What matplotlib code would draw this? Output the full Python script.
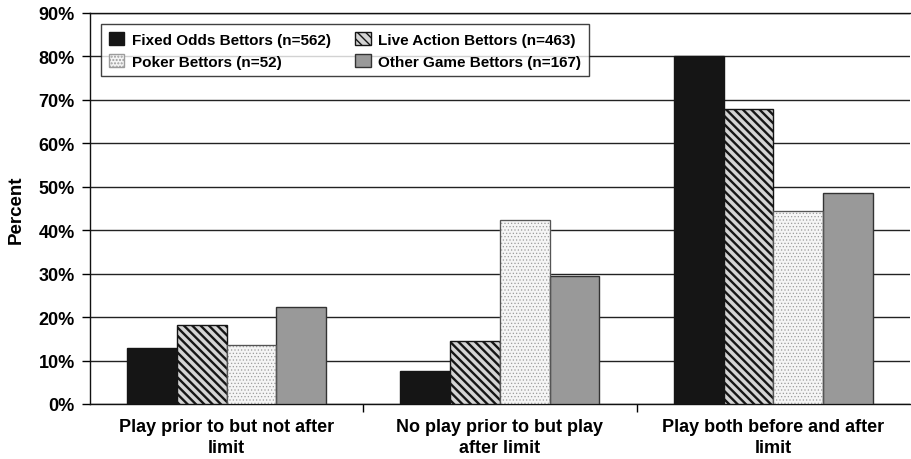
import matplotlib.pyplot as plt
import numpy as np

categories = ["Play prior to but not after\nlimit",
              "No play prior to but play\nafter limit",
              "Play both before and after\nlimit"]
series = ["Fixed Odds Bettors (n=562)", "Live Action Bettors (n=463)",
          "Poker Bettors (n=52)", "Other Game Bettors (n=167)"]
fixed_odds = [12.9, 7.6, 80.0]
live_action = [18.2, 14.5, 67.9]
poker = [13.6, 42.4, 44.4]
other_game = [22.3, 29.5, 48.6]
values = [fixed_odds, live_action, poker, other_game]

plt.rcParams['font.family'] = ['Liberation Sans', 'DejaVu Sans']
plt.rcParams['font.weight'] = 'bold'

styles = [
    dict(facecolor='#151515', edgecolor='#151515', hatch=None),
    dict(facecolor='#d4d4d4', edgecolor='#151515', hatch='\\\\\\\\'),
    dict(facecolor='#f5f5f5', edgecolor='#9c9c9c', hatch='.....'),
    dict(facecolor='#999999', edgecolor='#333333', hatch=None),
]
hatch_lw = [1.0, 1.7, 0.5, 1.0]

fig = plt.figure(figsize=(9.11, 4.6), dpi=100)
ax = fig.add_axes([0.0988, 0.1196, 0.9, 0.85])

x = np.arange(len(categories))
w = 0.182
bars = []
for i, (vals, name, st) in enumerate(zip(values, series, styles)):
    plt.rcParams['hatch.linewidth'] = hatch_lw[i]
    b = ax.bar(x + (i - 1.5) * w, vals, w, label=name, linewidth=1.0, zorder=3, **st)
    for p in b:
        if hasattr(p, 'set_hatch_linewidth'):
            p.set_hatch_linewidth(hatch_lw[i])
    bars.append(b)
    if i == 2:
        # darker outline over the dotted bars
        ax.bar(x + (i - 1.5) * w, vals, w, fill=False, edgecolor='#555555',
               linewidth=0.8, zorder=4)

ax.set_xlim(-0.5, 2.5)
ax.set_ylim(0, 90)
ax.set_yticks(range(0, 91, 10))
ax.set_yticklabels([f"{v}%" for v in range(0, 91, 10)], fontsize=13, fontweight='bold')
ax.yaxis.grid(True, color='#222222', linewidth=1.0, zorder=0)
ax.set_axisbelow(True)

ax.set_xticks(x)
ax.set_xticklabels(categories, fontsize=13, fontweight='bold', linespacing=1.3)
ax.tick_params(axis='x', length=0, pad=10)
ax.set_xticks([0.5, 1.5], minor=True)
ax.tick_params(axis='x', which='minor', length=6, width=1, direction='out')
ax.tick_params(axis='y', length=6, width=1, direction='out', pad=5)

ax.set_ylabel("Percent", fontsize=13.5, fontweight='bold', labelpad=10)

ax.spines['right'].set_visible(False)
for s in ['left', 'bottom', 'top']:
    ax.spines[s].set_color('#111111')
    ax.spines[s].set_linewidth(1.0)

# row-wise legend order: Fixed, Live / Poker, Other
order = [0, 2, 1, 3]
leg = ax.legend([bars[k] for k in order], [series[k] for k in order],
                ncol=2, loc='upper left', bbox_to_anchor=(0.014, 0.972),
                fontsize=11, frameon=True, fancybox=False, edgecolor='#111111',
                handlelength=1.0, handleheight=1.0, handletextpad=0.5,
                columnspacing=1.6, borderpad=0.5, labelspacing=0.45,
                borderaxespad=0)
leg.get_frame().set_linewidth(1.0)

fig.savefig("out.png", dpi=100)
